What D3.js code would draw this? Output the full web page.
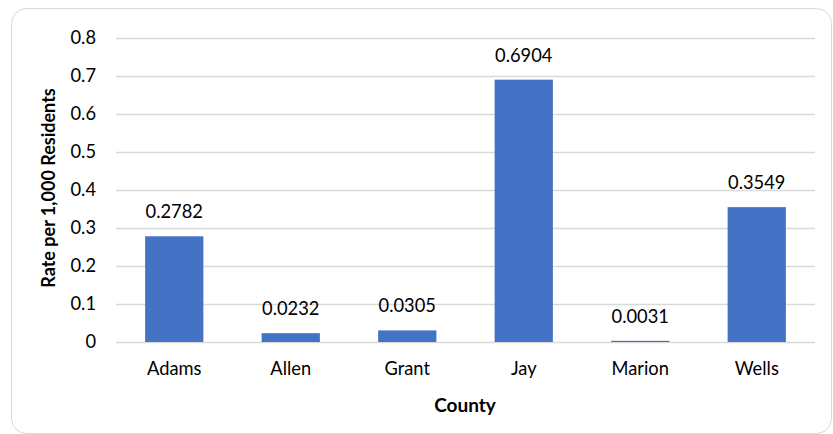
<!DOCTYPE html>
<html>
<head>
<meta charset="utf-8">
<script src="https://cdn.jsdelivr.net/npm/d3@7"></script>
<style>
  html, body { margin: 0; padding: 0; background: #ffffff; }
  svg { display: block; }
  text { font-family: Lato, "Open Sans", sans-serif; fill: #000; }
</style>
</head>
<body>
<svg id="chart" width="833" height="434"></svg>
<script>
// County rates per 1,000 residents
const counties = ["Adams", "Allen", "Grant", "Jay", "Marion", "Wells"];
const rates = [0.2782, 0.0232, 0.0305, 0.6904, 0.0031, 0.3549];
const yTicks = [0, 0.1, 0.2, 0.3, 0.4, 0.5, 0.6, 0.7, 0.8];

const svg = d3.select("#chart");
const W = 833, H = 434;
const margin = { left: 116, right: 18, top: 38, bottom: 92 };
const labelFont = "18.3px";

// Outer frame
svg.append("rect")
  .attr("x", 11.5).attr("y", 8.5)
  .attr("width", W - 13).attr("height", H - 9)
  .attr("rx", 15).attr("ry", 15)
  .attr("fill", "#fff").attr("stroke", "#d9d9d9").attr("stroke-width", 1);

const x = d3.scaleBand()
  .domain(counties)
  .range([margin.left, W - margin.right])
  .paddingInner(0.5).paddingOuter(0.25);

const y = d3.scaleLinear()
  .domain([0, 0.8])
  .range([H - margin.bottom, margin.top]);

// Gridlines
svg.append("g")
  .selectAll("line")
  .data(yTicks)
  .join("line")
  .attr("x1", margin.left).attr("x2", W - margin.right)
  .attr("y1", d => Math.round(y(d)) + 0.5).attr("y2", d => Math.round(y(d)) + 0.5)
  .attr("stroke", "#d9d9d9").attr("stroke-width", 1.3);

// Y axis tick labels
const yAxis = d3.axisLeft(y).tickValues(yTicks).tickFormat(d => d === 0 ? "0" : d3.format(".1f")(d)).tickSize(0).tickPadding(20);
const gy = svg.append("g").attr("transform", `translate(${margin.left},0)`).call(yAxis);
gy.select(".domain").remove();
gy.selectAll("text").style("font-family", "Lato, 'Open Sans', sans-serif").style("font-size", labelFont).attr("fill", "#000");

// Bars
svg.append("g")
  .selectAll("rect")
  .data(counties.map((c, i) => ({ c, v: rates[i] })))
  .join("rect")
  .attr("x", d => x(d.c))
  .attr("width", x.bandwidth())
  .attr("y", d => y(d.v))
  .attr("height", d => y(0) - y(d.v))
  .attr("fill", "#4472c4");

// Value labels
svg.append("g")
  .selectAll("text")
  .data(counties.map((c, i) => ({ c, v: rates[i] })))
  .join("text")
  .attr("x", d => x(d.c) + x.bandwidth() / 2)
  .attr("y", d => y(d.v) - 18)
  .attr("text-anchor", "middle")
  .style("font-size", labelFont)
  .text(d => d3.format(".4f")(d.v));

// X axis category labels
const xAxis = d3.axisBottom(x).tickSize(0).tickPadding(20);
const gx = svg.append("g").attr("transform", `translate(0,${y(0)})`).call(xAxis);
gx.select(".domain").remove();
gx.selectAll("text").style("font-family", "Lato, 'Open Sans', sans-serif").style("font-size", labelFont).attr("fill", "#000");

// Axis titles
svg.append("text")
  .attr("x", 465)
  .attr("y", 412)
  .attr("text-anchor", "middle")
  .style("font-size", "19px").style("font-weight", "bold")
  .text("County");

svg.append("text")
  .attr("transform", `translate(55,188) rotate(-90)`)
  .attr("text-anchor", "middle")
  .style("font-size", "18px").style("font-weight", "bold")
  .text("Rate per 1,000 Residents");
</script>
</body>
</html>
